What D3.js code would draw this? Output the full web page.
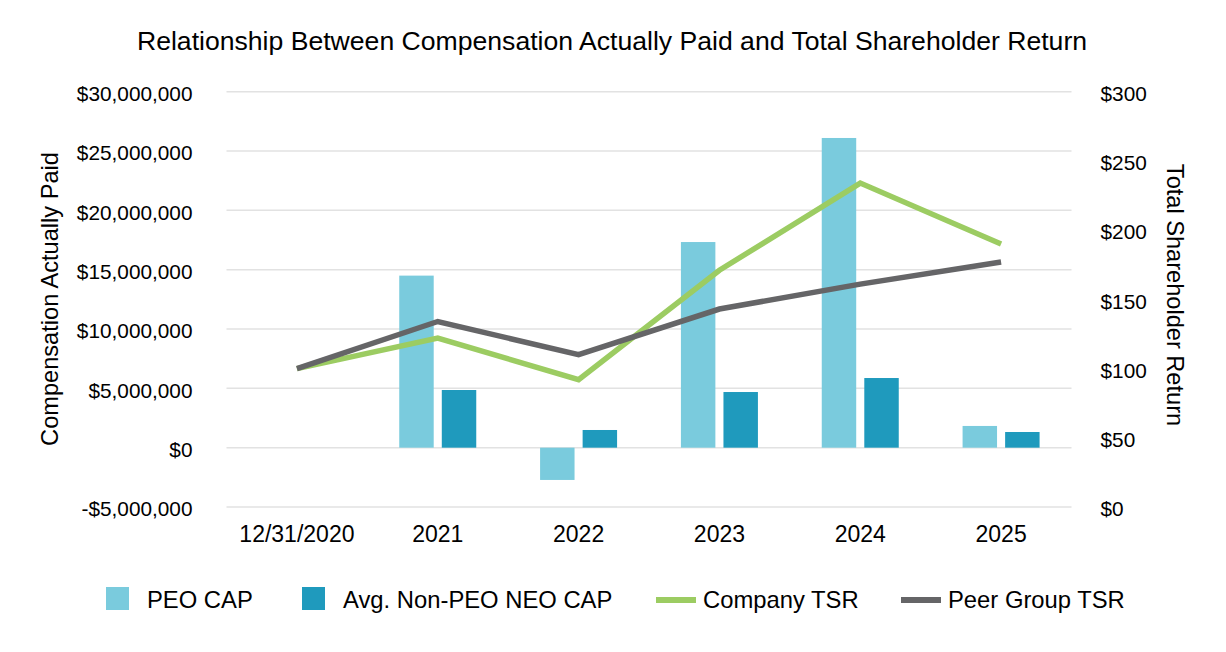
<!DOCTYPE html>
<html>
<head>
<meta charset="utf-8">
<script src="https://cdn.jsdelivr.net/npm/d3@7/dist/d3.min.js"></script>
<style>
  html, body { margin: 0; padding: 0; background: #ffffff; }
  svg { display: block; font-family: "Liberation Sans", Arial, sans-serif; }
</style>
</head>
<body>
<svg id="chart" width="1226" height="652"></svg>
<script>
const categories = ["12/31/2020", "2021", "2022", "2023", "2024", "2025"];
const peoCap = [null, 14500000, -2720000, 17330000, 26100000, 1830000];
const neoCap = [null, 4860000, 1490000, 4690000, 5870000, 1320000];
const companyTSR = [100, 122, 92, 171, 234, 190];
const peerTSR = [100, 134, 110, 143, 161, 177];
const leftTicks = [-5000000, 0, 5000000, 10000000, 15000000, 20000000, 25000000, 30000000];
const rightTicks = [0, 50, 100, 150, 200, 250, 300];

const colors = { peo: "#7ACBDD", neo: "#1F9ABD", company: "#9CCC62", peer: "#656567", grid: "#E2E2E2" };

const svg = d3.select("#chart");
const plotLeft = 226.5, plotRight = 1071.5, plotTop = 91.7, plotBottom = 507;

const x = d3.scaleBand().domain(categories).range([plotLeft, plotRight]).padding(0);
const yL = d3.scaleLinear().domain([-5000000, 30000000]).range([plotBottom, plotTop]);
const yR = d3.scaleLinear().domain([0, 300]).range([plotBottom, plotTop]);

const fmtM = v => (v < 0 ? "-$" : "$") + d3.format(",")(Math.abs(v));

// gridlines
svg.append("g").selectAll("line").data(leftTicks).join("line")
  .attr("x1", plotLeft).attr("x2", plotRight)
  .attr("y1", d => yL(d)).attr("y2", d => yL(d))
  .attr("stroke", colors.grid).attr("stroke-width", 1.5);

// left axis
const axL = svg.append("g").attr("transform", `translate(${plotLeft},0)`)
  .call(d3.axisLeft(yL).tickValues(leftTicks).tickFormat(fmtM).tickSize(0).tickPadding(34));
axL.select(".domain").remove();
axL.selectAll("text").attr("font-size", 20.8).attr("fill", "#000").attr("font-family", "Liberation Sans, Arial, sans-serif").attr("dy", "0.42em");

// right axis
const axR = svg.append("g").attr("transform", `translate(${plotRight},0)`)
  .call(d3.axisRight(yR).tickValues(rightTicks).tickFormat(d => "$" + d).tickSize(0).tickPadding(29));
axR.select(".domain").remove();
axR.selectAll("text").attr("font-size", 20.8).attr("fill", "#000").attr("font-family", "Liberation Sans, Arial, sans-serif").attr("dy", "0.42em");

// x axis labels
const axX = svg.append("g").attr("transform", `translate(0,${plotBottom})`)
  .call(d3.axisBottom(x).tickSize(0).tickPadding(19));
axX.select(".domain").remove();
axX.selectAll("text").attr("font-size", 23).attr("fill", "#000").attr("font-family", "Liberation Sans, Arial, sans-serif");

// bars
const series = [{ key: "peo", values: peoCap }, { key: "neo", values: neoCap }];
const gb = svg.append("g");
categories.forEach((c, i) => {
  const cx = x(c) + x.bandwidth() / 2;
  const x1 = d3.scaleBand().domain(["peo", "neo"]).range([cx - 38.5, cx + 38.5]).paddingInner(0.19);
  series.forEach(s => {
    const v = s.values[i];
    if (v == null) return;
    gb.append("rect")
      .attr("x", x1(s.key)).attr("width", x1.bandwidth())
      .attr("y", Math.min(yL(v), yL(0)))
      .attr("height", Math.abs(yL(v) - yL(0)))
      .attr("fill", colors[s.key]);
  });
});

// lines
const line = d3.line().x((d, i) => x(categories[i]) + x.bandwidth() / 2).y(d => yR(d));
svg.append("path").datum(companyTSR).attr("d", line)
  .attr("fill", "none").attr("stroke", colors.company).attr("stroke-width", 5.5);
svg.append("path").datum(peerTSR).attr("d", line)
  .attr("fill", "none").attr("stroke", colors.peer).attr("stroke-width", 5.5);

// title
svg.append("text").attr("x", 612).attr("y", 50).attr("text-anchor", "middle")
  .attr("font-size", 26.6).attr("fill", "#000")
  .text("Relationship Between Compensation Actually Paid and Total Shareholder Return");

// axis titles
svg.append("text").attr("transform", "translate(50,299) rotate(-90)")
  .attr("text-anchor", "middle").attr("dominant-baseline", "central")
  .attr("font-size", 23.6).attr("fill", "#000").text("Compensation Actually Paid");
svg.append("text").attr("transform", "translate(1175,295) rotate(90)")
  .attr("text-anchor", "middle").attr("dominant-baseline", "central")
  .attr("font-size", 23.6).attr("fill", "#000").text("Total Shareholder Return");

// legend
const legendItems = [
  { label: "PEO CAP", type: "rect", color: colors.peo, x: 106, tx: 147 },
  { label: "Avg. Non-PEO NEO CAP", type: "rect", color: colors.neo, x: 302, tx: 343 },
  { label: "Company TSR", type: "line", color: colors.company, x: 656, tx: 703 },
  { label: "Peer Group TSR", type: "line", color: colors.peer, x: 901, tx: 948 }
];
const lg = svg.append("g");
legendItems.forEach(it => {
  if (it.type === "rect") {
    lg.append("rect").attr("x", it.x).attr("y", 587).attr("width", 23).attr("height", 23).attr("fill", it.color);
  } else {
    lg.append("line").attr("x1", it.x).attr("x2", it.x + 40).attr("y1", 600).attr("y2", 600)
      .attr("stroke", it.color).attr("stroke-width", 6);
  }
  lg.append("text").attr("x", it.tx).attr("y", 599).attr("dominant-baseline", "central")
    .attr("font-size", 23.8).attr("fill", "#000").text(it.label);
});
</script>
</body>
</html>
